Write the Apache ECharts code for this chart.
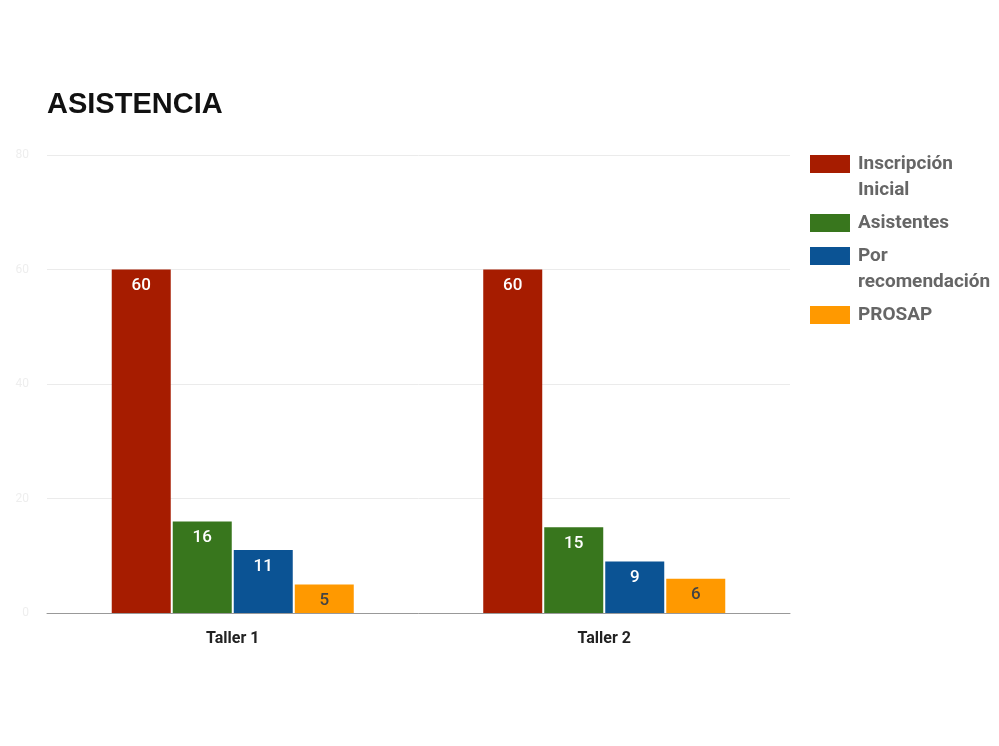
<!DOCTYPE html>
<html>
<head>
<meta charset="utf-8">
<title>ASISTENCIA</title>
<script src="https://cdn.jsdelivr.net/npm/echarts@6/dist/echarts.min.js"></script>
<style>
  html, body { margin: 0; padding: 0; background: #ffffff; }
  #chart { width: 999px; height: 746px; }
</style>
</head>
<body>
<div id="chart"></div>
<script>
// Workshops on the x axis
const categories = ['Taller 1', 'Taller 2'];

// Attendance figures per workshop
const seriesNames = ['Inscripción Inicial', 'Asistentes', 'Por recomendación', 'PROSAP'];
const inscripcionInicial = [60, 60];
const asistentes = [16, 15];
const porRecomendacion = [11, 9];
const prosap = [5, 6];

// Value axis ticks
const yTicks = [0, 20, 40, 60, 80];

const seriesValues = [inscripcionInicial, asistentes, porRecomendacion, prosap];
const colors = ['#a61c00', '#38761d', '#0b5394', '#ff9900'];
const labelColors = ['#ffffff', '#ffffff', '#ffffff', '#444444'];

// Legend swatches: the square sits beside the first line of the label
const iconTwoLines = 'path://M0,0H40V18H0Z M0,44h0.01v0.01h-0.01Z';
const iconOneLine = 'path://M0,13H40V31H0Z M0,0h0.01v0.01h-0.01Z M0,44h0.01v0.01h-0.01Z';

const chart = echarts.init(document.getElementById('chart'), null, { renderer: 'canvas' });

chart.setOption({
  backgroundColor: '#ffffff',
  animation: false,
  title: {
    text: 'ASISTENCIA',
    left: 47,
    top: 90,
    padding: 0,
    textStyle: {
      fontFamily: 'Liberation Sans, Arial, sans-serif',
      fontWeight: 'bold',
      fontSize: 29,
      color: '#111111'
    }
  },
  legend: {
    orient: 'vertical',
    left: 810,
    top: 151,
    padding: 0,
    itemWidth: 40,
    itemHeight: 44,
    itemGap: -2,
    itemTextGap: 8,
    itemStyle: { borderWidth: 0 },
    data: seriesNames.map(n => ({
      name: n,
      icon: n.indexOf(' ') >= 0 ? iconTwoLines : iconOneLine
    })),
    formatter: name => name.replace(' ', '\n'),
    textStyle: {
      fontFamily: 'Roboto, sans-serif',
      fontWeight: 'bold',
      fontSize: 19,
      lineHeight: 26,
      padding: [0, 0, 0, 3],
      color: '#666666'
    }
  },
  grid: {
    left: 47,
    right: 209,
    top: 155,
    bottom: 133,
    containLabel: false
  },
  xAxis: {
    type: 'category',
    data: categories,
    axisTick: { show: false },
    axisLine: { lineStyle: { color: '#999999', width: 1 } },
    axisLabel: {
      margin: 18,
      fontFamily: 'Roboto, sans-serif',
      fontWeight: 'bold',
      fontSize: 16,
      color: '#222222'
    }
  },
  yAxis: {
    type: 'value',
    min: yTicks[0],
    max: yTicks[yTicks.length - 1],
    interval: yTicks[1] - yTicks[0],
    axisLine: { show: false },
    axisTick: { show: false },
    axisLabel: {
      margin: 18,
      fontFamily: 'Roboto, sans-serif',
      fontSize: 12,
      color: '#eeeeee'
    },
    splitLine: { lineStyle: { color: '#ebebeb', width: 1 } }
  },
  series: seriesNames.map((name, i) => ({
    name: name,
    type: 'bar',
    data: seriesValues[i],
    barWidth: 59,
    barGap: '3.4%',
    itemStyle: { color: colors[i] },
    label: {
      show: true,
      position: 'insideTop',
      distance: 8,
      fontFamily: 'Roboto, sans-serif',
      fontWeight: 500,
      fontSize: 17,
      color: labelColors[i]
    }
  }))
});
</script>
</body>
</html>
